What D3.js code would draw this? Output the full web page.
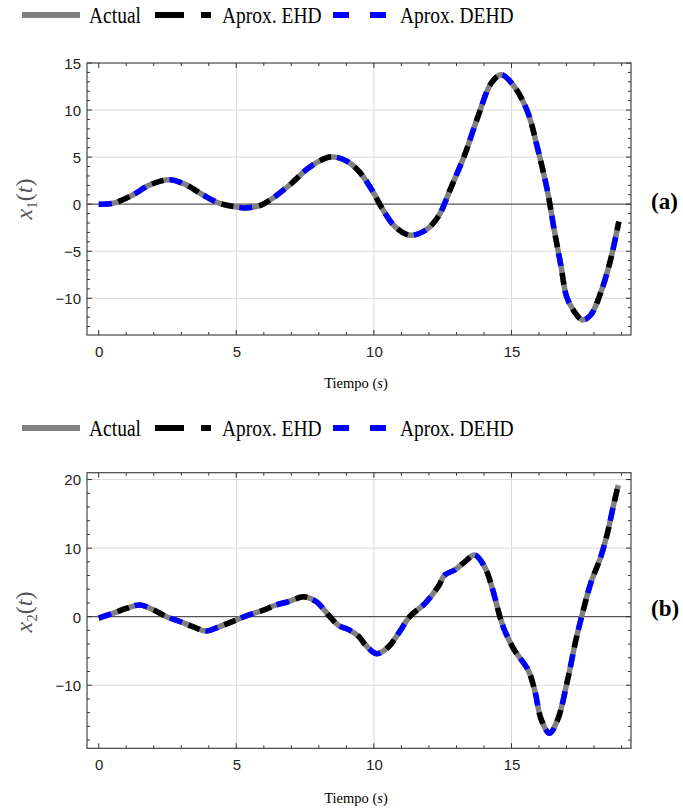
<!DOCTYPE html>
<html><head><meta charset="utf-8">
<script src="https://cdn.jsdelivr.net/npm/d3@7"></script>
<style>body{margin:0;background:#fff}svg{display:block}</style>
</head><body><svg id="c" width="683" height="808"></svg>
<script>
// ---- data ----
const seriesNames = ["Actual", "Aprox. EHD", "Aprox. DEHD"];
const x1Time = [0,0.53,1.25,1.86,2.58,3.18,3.78,4.38,5.1,5.3,5.9,6.4,7.0,7.6,8.3,8.6,9.0,9.45,9.93,10.29,10.77,11.31,11.86,12.34,12.82,13.3,13.78,14.27,14.63,15.1,15.6,15.9,16.3,16.55,16.8,17.0,17.28,17.57,17.87,18.23,18.6,18.9];
const x1Vals = [0,0.1,1.0,2.05,2.6,2.05,1.0,0.1,-0.35,-0.4,-0.1,0.8,2.2,3.8,4.95,5.0,4.6,3.5,1.5,-0.4,-2.4,-3.3,-2.8,-1.3,1.9,5.25,9.3,12.9,13.75,12.5,9.7,6.5,1.5,-2.7,-6.6,-9.8,-11.4,-12.3,-11.8,-9.5,-5.9,-1.85];
const x2Time = [0,0.53,1.0,1.5,1.98,2.46,2.95,3.42,3.9,4.39,4.87,5.35,5.95,6.44,6.9,7.45,7.9,8.4,8.72,9.08,9.45,9.69,10.1,10.53,10.9,11.3,11.86,12.34,12.58,12.94,13.3,13.66,14.02,14.32,14.56,14.74,15.1,15.6,15.84,16.08,16.38,16.68,17.04,17.34,17.58,17.88,18.24,18.48,18.72,18.88];
const x2Vals = [-0.2,0.5,1.2,1.7,1.0,0,-0.7,-1.45,-2.1,-1.45,-0.7,0.1,0.9,1.7,2.2,2.9,2.2,0,-1.3,-1.9,-2.9,-4.1,-5.4,-4.4,-2.4,0,1.95,4.4,6.1,6.8,8.0,9.0,7.3,3.9,0.25,-1.9,-4.85,-7.75,-10.7,-15.0,-17.0,-15.0,-9.2,-3.4,0.5,4.9,8.7,12.1,16.5,19.2];
const xTicks = [0,5,10,15];
const y1Ticks = [-10,-5,0,5,10,15];
const y2Ticks = [-10,0,10,20];

const svg = d3.select("#c");
const sans = "'Liberation Sans', Arial, sans-serif";
const serif = "'Liberation Serif', 'Times New Roman', serif";

function legend(yLine, yText){
  const g = svg.append("g");
  g.append("line").attr("x1",22).attr("x2",80).attr("y1",yLine).attr("y2",yLine)
    .attr("stroke","#808080").attr("stroke-width",6);
  g.append("line").attr("x1",155).attr("x2",211).attr("y1",yLine).attr("y2",yLine)
    .attr("stroke","#000").attr("stroke-width",6).attr("stroke-dasharray","29,17,10,20");
  g.append("line").attr("x1",333).attr("x2",386).attr("y1",yLine).attr("y2",yLine)
    .attr("stroke","#0000ff").attr("stroke-width",6).attr("stroke-dasharray","16,21,16,20");
  const labels = [[89,seriesNames[0]],[222,seriesNames[1]],[400,seriesNames[2]]];
  labels.forEach(([x,t])=>{
    g.append("text").attr("transform",`translate(${x},${yText}) scale(1,1.15)`)
      .attr("font-family",serif).attr("font-size",19.5).attr("fill","#000").text(t);
  });
}

function panel(opt){
  const {top,bottom,yDom,yTicks,yMinorStep,times,vals,label,tag,legendY,tagY,xlabY,ylabY} = opt;
  const x = d3.scaleLinear().domain([0,5]).range([98.7,236.3]);
  const left = 87, right = 631;
  const y = d3.scaleLinear().domain(yDom).range([bottom,top]);
  const g = svg.append("g");
  // grid
  g.selectAll(".vg").data(xTicks.filter(d=>d!==0)).join("line")
    .attr("x1",d=>x(d)).attr("x2",d=>x(d)).attr("y1",top).attr("y2",bottom)
    .attr("stroke","#d9d9d9").attr("stroke-width",1);
  g.selectAll(".hg").data(yTicks.filter(d=>d!==0 && y(d)>top+2)).join("line")
    .attr("x1",left).attr("x2",right).attr("y1",d=>y(d)).attr("y2",d=>y(d))
    .attr("stroke","#d9d9d9").attr("stroke-width",1);
  g.append("line").attr("x1",left).attr("x2",right).attr("y1",y(0)).attr("y2",y(0))
    .attr("stroke","#555").attr("stroke-width",1.2);
  // minor ticks
  const xMinor = d3.range(0,20,1);
  const yMinor = d3.range(Math.ceil(yDom[0]/yMinorStep)*yMinorStep, yDom[1]+0.001, yMinorStep);
  const tk = g.append("g").attr("stroke","#333").attr("stroke-width",1);
  xMinor.forEach(v=>{
    const L = xTicks.includes(v)?5:3;
    tk.append("line").attr("x1",x(v)).attr("x2",x(v)).attr("y1",bottom).attr("y2",bottom-L);
    tk.append("line").attr("x1",x(v)).attr("x2",x(v)).attr("y1",top).attr("y2",top+L);
  });
  yMinor.forEach(v=>{
    const L = yTicks.includes(v)?5:3;
    tk.append("line").attr("x1",left).attr("x2",left+L).attr("y1",y(v)).attr("y2",y(v));
    tk.append("line").attr("x1",right).attr("x2",right-L).attr("y1",y(v)).attr("y2",y(v));
  });
  // frame
  g.append("rect").attr("x",left).attr("y",top).attr("width",right-left).attr("height",bottom-top)
    .attr("fill","none").attr("stroke","#444").attr("stroke-width",1.2);
  // axes labels
  const xa = d3.axisBottom(x).tickValues(xTicks).tickSize(0).tickPadding(0).tickFormat(d3.format("d"));
  const xg = g.append("g").attr("transform",`translate(0,${bottom+22})`).call(xa);
  xg.select(".domain").remove();
  xg.selectAll("text").attr("font-family",sans).attr("font-size",15).attr("fill","#222").attr("dy","0");
  const ya = d3.axisLeft(y).tickValues(yTicks).tickSize(0).tickPadding(0).tickFormat(d=>d<0?"\u2212"+Math.abs(d):d);
  const yg = g.append("g").attr("transform",`translate(${left-6},0)`).call(ya);
  yg.select(".domain").remove();
  yg.selectAll("text").attr("font-family",sans).attr("font-size",15).attr("fill","#222").attr("dy","0.36em");
  // curves
  const line = d3.line().x((d,i)=>x(times[i])).y(d=>y(d)).curve(d3.curveCatmullRom.alpha(0.5));
  const clipId = "clip"+tag.replace(/\W/g,"");
  svg.append("clipPath").attr("id",clipId).append("rect").attr("x",left).attr("y",top).attr("width",right-left).attr("height",bottom-top);
  const cg = g.append("g").attr("clip-path",`url(#${clipId})`);
  cg.append("path").attr("d",line(vals)).attr("fill","none").attr("stroke","#808080").attr("stroke-width",5.5);
  cg.append("path").attr("d",line(vals)).attr("fill","none").attr("stroke","#000").attr("stroke-width",5.5)
    .attr("stroke-dasharray","12,26").attr("stroke-dashoffset",-20);
  cg.append("path").attr("d",line(vals)).attr("fill","none").attr("stroke","#0000ff").attr("stroke-width",5.5)
    .attr("stroke-dasharray","13,25").attr("stroke-dashoffset",0);
  // y label
  const yl = svg.append("text").attr("transform",`translate(32,${ylabY}) rotate(-90)`)
    .attr("text-anchor","middle").attr("font-family",serif).attr("font-size",24).attr("fill","#555").attr("font-style","italic");
  yl.append("tspan").text("x");
  yl.append("tspan").attr("font-size",15).attr("font-style","normal").attr("dy",5).text(label);
  yl.append("tspan").attr("dy",-5).attr("font-style","normal").text("(");
  yl.append("tspan").text("t");
  yl.append("tspan").attr("font-style","normal").text(")");
  // x label
  const xl = svg.append("text").attr("x",356).attr("y",xlabY).attr("text-anchor","middle")
    .attr("font-family",serif).attr("font-size",14.5).attr("fill","#000");
  xl.append("tspan").text("Tiempo (");
  xl.append("tspan").attr("font-style","italic").text("s");
  xl.append("tspan").text(")");
  // tag
  svg.append("text").attr("x",651).attr("y",tagY).attr("font-family",serif).attr("font-weight","bold")
    .attr("font-size",23).attr("fill","#000").text(tag);
  legend(legendY, legendY+8);
}

panel({top:63,bottom:335,yDom:[-13.9,15],yTicks:y1Ticks,yMinorStep:1,times:x1Time,vals:x1Vals,label:"1",tag:"(a)",legendY:15,tagY:209,xlabY:388,ylabY:199});
panel({top:472.7,bottom:748.3,yDom:[-19.2,21],yTicks:y2Ticks,yMinorStep:2,times:x2Time,vals:x2Vals,label:"2",tag:"(b)",legendY:428,tagY:616,xlabY:803,ylabY:612});
</script></body></html>
